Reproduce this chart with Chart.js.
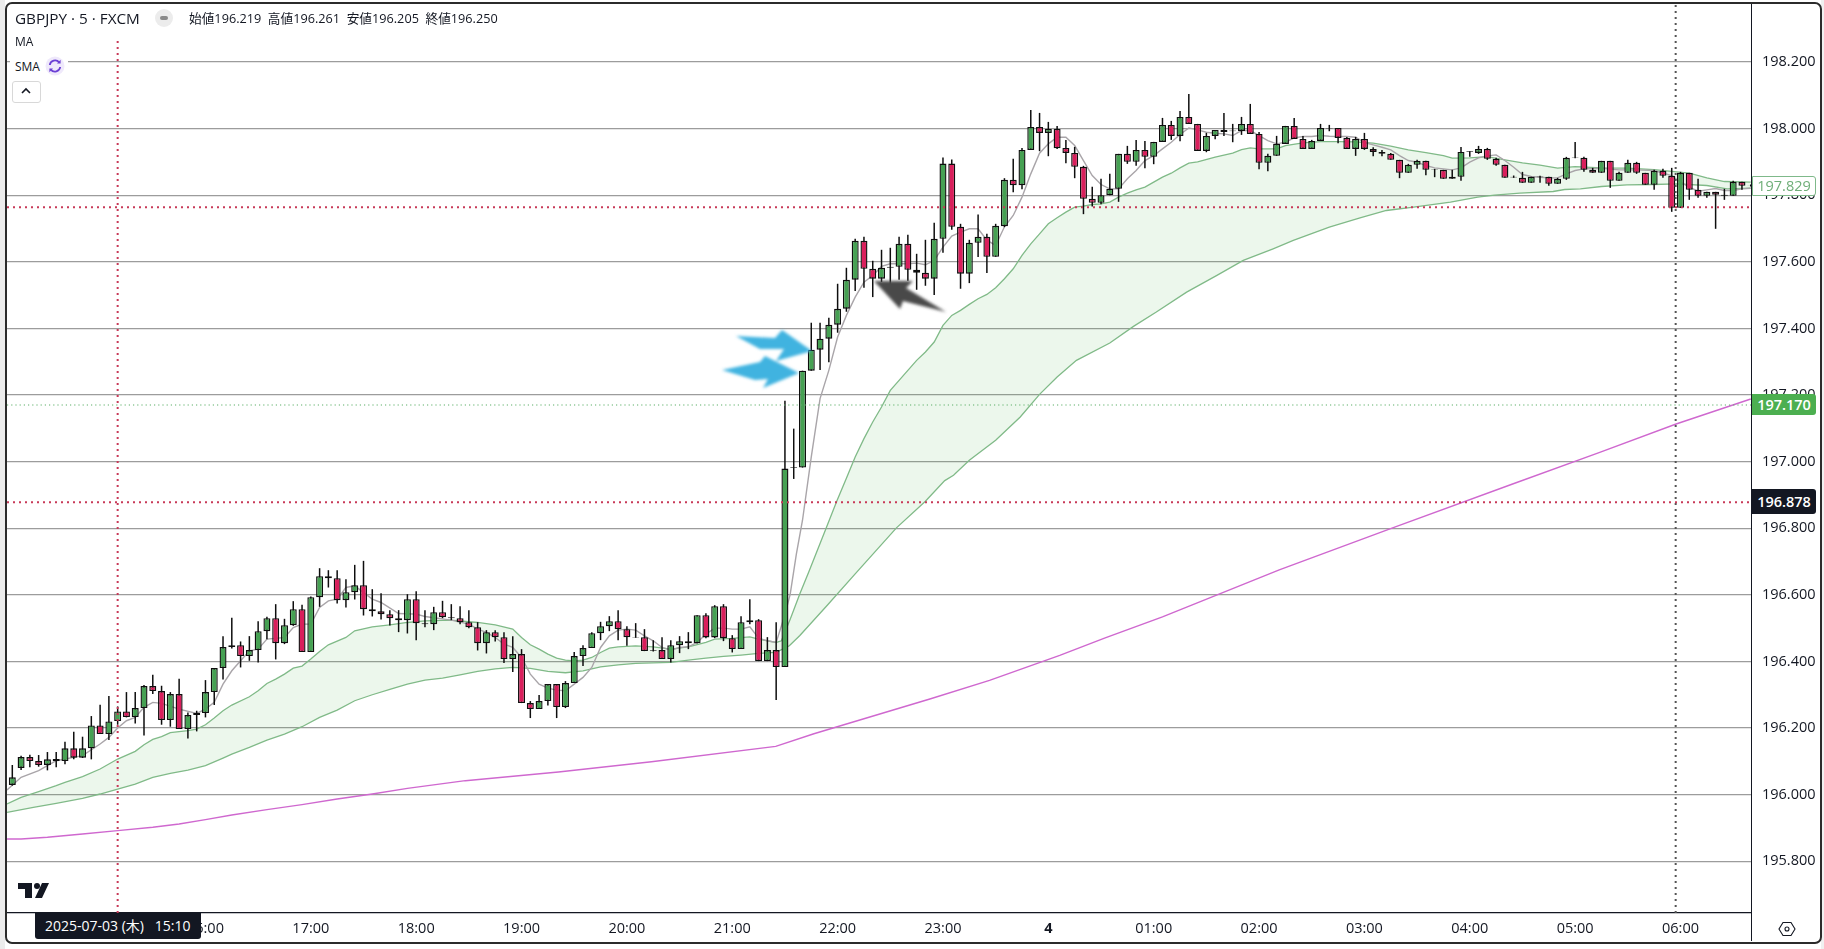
<!DOCTYPE html>
<html lang="ja">
<head>
<meta charset="utf-8">
<title>GBPJPY 5 FXCM</title>
<script src="https://cdn.jsdelivr.net/npm/chart.js@4"></script>
<style>
html,body{margin:0;padding:0;background:#fff;width:1824px;height:949px;overflow:hidden}
#wrap{position:relative;width:1824px;height:949px;font-family:"Open Sans","Noto Sans CJK JP",sans-serif;color:#131722}
canvas{position:absolute;left:0;top:0}
.abs{position:absolute;white-space:nowrap}
.tag{position:absolute;left:1752px;width:64px;text-align:center;font-size:14.5px;box-sizing:border-box;border-radius:0 3px 3px 0}
</style>
</head>
<body>
<div id="wrap">
<canvas id="c" width="1824" height="949"></canvas>
<div class="abs" style="left:0;top:0;width:5px;height:949px;background:#ececec"></div>
<div class="abs" style="left:1821px;top:0;width:3px;height:949px;background:#f0f0f0"></div>
<div class="abs" style="left:5px;top:2px;width:1813px;height:938px;border:2.5px solid #2b2b2b;border-radius:7px"></div>
<div class="abs" style="left:1751px;top:4px;width:1px;height:937px;background:#131722"></div>
<div class="abs" style="left:15px;top:8px;font-size:15.3px;line-height:21px">GBPJPY · 5 · FXCM</div>
<div class="abs" style="left:155px;top:9px;width:18px;height:18px;border-radius:9px;background:#ececec"></div>
<div class="abs" style="left:160px;top:16px;width:8px;height:4px;border-radius:2px;background:#8a8a8a"></div>
<div class="abs" style="left:189px;top:8px;font-size:12.7px;line-height:20px">始値196.219&nbsp; 高値196.261&nbsp; 安値196.205&nbsp; 終値196.250</div>
<div class="abs" style="left:15px;top:33px;font-size:12px;line-height:18px">MA</div>
<div class="abs" style="left:10px;top:55px;width:58px;height:24px;background:#fff"></div>
<div class="abs" style="left:15px;top:58px;font-size:12px;line-height:18px">SMA</div>
<svg class="abs" style="left:45px;top:56px" width="20" height="20" viewBox="0 0 20 20"><circle cx="10" cy="10" r="9.5" fill="#efe9fb"/><path d="M4.8 9a5.3 5.3 0 0 1 9.4-2.6M15.2 11a5.3 5.3 0 0 1-9.4 2.6" fill="none" stroke="#6b3fd4" stroke-width="1.8"/><path d="M15.6 3.8v3.6h-3.6zM4.4 16.2v-3.6h3.6z" fill="#6b3fd4"/></svg>
<div class="abs" style="left:12px;top:81px;width:27px;height:20px;border:1px solid #d8d8d8;border-radius:3px;background:#fff"></div>
<svg class="abs" style="left:20px;top:86px" width="12" height="10" viewBox="0 0 12 10"><path d="M2 7l4-4 4 4" fill="none" stroke="#131722" stroke-width="1.6"/></svg>
<svg class="abs" style="left:18px;top:883px" width="31" height="16" viewBox="0 0 31 16"><path d="M0 0h14v15H7V6H0z" fill="#131722"/><circle cx="19" cy="3" r="3" fill="#131722"/><path d="M24 0h7l-7 15h-7z" fill="#131722"/></svg>
<svg class="abs" style="left:0;top:0;pointer-events:none" width="1824" height="949">
<defs><filter id="soft" x="-20%" y="-40%" width="140%" height="180%"><feGaussianBlur stdDeviation="1.4"/></filter></defs>
<g filter="url(#soft)">
<polygon fill="#3fb3e0" points="736,336 775,338 782,330 812,351 776,361 784,349 760,349"/>
<polygon fill="#3fb3e0" points="722,370 760,362 765,356 799,373 763,388 768,379 755,380"/>
<polygon fill="#4a4a4a" points="874,281 913,281 906,288 946,312 903,301 900,309"/>
</g>
</svg>
<div class="tag" style="top:176px;height:20px;line-height:18px;background:#fff;border:1px solid #7fb98a;color:#6fae78">197.829</div>
<div class="tag" style="top:394px;height:21px;line-height:21px;background:#4caf50;color:#fff;font-weight:600">197.170</div>
<div class="tag" style="top:489px;height:25px;line-height:25px;background:#131722;color:#fff;font-weight:600">196.878</div>
<div class="abs" style="left:35px;top:913px;width:166px;height:26px;line-height:26px;background:#131722;color:#fff;font-size:14px;border-radius:0 0 3px 3px;padding-left:10px;box-sizing:border-box">2025-07-03 (木)&nbsp;&nbsp;&nbsp;15:10</div>
<svg class="abs" style="left:1778px;top:921px" width="18" height="16" viewBox="0 0 18 16"><path d="M5 1.5h8L17 8l-4 6.5H5L1 8z" fill="none" stroke="#131722" stroke-width="1.1"/><circle cx="9" cy="8" r="2" fill="none" stroke="#131722" stroke-width="1.1"/></svg>
</div>
<script>
const yTicks=[195.8,196.0,196.2,196.4,196.6,196.8,197.0,197.2,197.4,197.6,197.8,198.0,198.2];
const xTickIdx=[10,22,34,46,58,70,82,94,106,118,130,142,154,166,178,190];
const xTickText=['15:00','16:00','17:00','18:00','19:00','20:00','21:00','22:00','23:00','4','01:00','02:00','03:00','04:00','05:00','06:00'];

const opens=[196.029,196.080,196.113,196.101,196.089,196.107,196.101,196.139,196.111,196.139,196.208,196.182,196.221,196.250,196.233,196.260,196.326,196.311,196.224,196.302,
196.197,196.239,196.245,196.308,196.380,196.443,196.449,196.416,196.434,196.491,196.530,196.455,196.509,196.557,196.428,196.593,196.656,196.650,196.584,196.608,
196.629,196.557,196.551,196.542,196.530,196.524,196.587,196.515,196.512,196.548,196.533,196.530,196.518,196.503,196.455,196.488,196.473,196.407,196.422,196.275,
196.257,196.281,196.332,196.263,196.335,196.416,196.440,196.485,196.506,196.521,196.497,196.473,196.473,196.434,196.434,196.407,196.449,196.461,196.455,196.539,
196.472,196.566,196.470,196.437,196.518,196.524,196.401,196.434,196.383,196.981,196.982,197.273,197.336,197.369,197.411,197.459,197.546,197.663,197.579,197.549,
197.582,197.585,197.654,197.576,197.567,197.549,197.669,197.895,197.705,197.564,197.657,197.675,197.615,197.707,197.846,197.830,197.936,198.005,197.987,197.999,
197.942,197.927,197.885,197.789,197.777,197.800,197.819,197.924,197.900,197.936,197.915,197.960,198.011,197.978,198.035,198.014,197.933,197.978,197.996,197.992,
197.993,198.014,197.984,197.897,197.918,197.954,198.008,197.969,197.939,197.963,198.000,198.002,197.972,197.939,197.969,197.939,197.930,197.924,197.906,197.867,
197.891,197.903,197.878,197.876,197.849,197.855,197.930,197.927,197.939,197.909,197.891,197.855,197.852,197.837,197.856,197.855,197.834,197.849,197.912,197.912,
197.876,197.867,197.903,197.843,197.867,197.897,197.867,197.831,197.873,197.858,197.762,197.867,197.816,197.798,197.810,197.801,197.798,197.840,197.828];
const highs=[196.089,196.117,196.120,196.119,196.128,196.128,196.159,196.189,196.174,196.236,196.270,196.296,196.265,196.308,196.308,196.329,196.360,196.327,196.308,196.348,
196.247,196.252,196.344,196.380,196.476,196.531,196.460,196.476,196.521,196.534,196.572,196.528,196.581,196.570,196.595,196.680,196.674,196.674,196.647,196.690,
196.702,196.617,196.605,196.554,196.554,196.602,196.611,196.554,196.564,196.582,196.572,196.566,196.554,196.518,196.494,196.494,196.488,196.476,196.437,196.281,
196.299,196.332,196.332,196.341,196.428,196.449,196.488,196.519,196.536,196.554,196.506,196.515,196.497,196.464,196.473,196.464,196.476,196.488,196.539,196.545,
196.569,196.572,196.479,196.536,196.587,196.527,196.473,196.518,197.183,197.099,197.273,197.417,197.417,197.432,197.534,197.582,197.669,197.675,197.603,197.636,
197.642,197.675,197.681,197.624,197.666,197.717,197.913,197.907,197.714,197.666,197.742,197.684,197.714,197.851,197.909,197.942,198.056,198.047,198.020,198.008,
197.966,197.945,197.888,197.825,197.849,197.864,197.924,197.948,197.966,197.963,197.960,198.032,198.023,198.053,198.104,198.014,197.987,197.996,198.047,198.014,
198.035,198.074,197.990,197.924,197.978,198.008,198.032,197.978,197.966,198.014,198.011,198.002,197.975,197.975,197.987,197.944,197.936,197.927,197.906,197.894,
197.906,197.903,197.879,197.876,197.876,197.945,197.932,197.948,197.942,197.912,197.891,197.859,197.870,197.855,197.858,197.855,197.852,197.915,197.960,197.915,
197.882,197.903,197.903,197.870,197.906,197.900,197.867,197.876,197.879,197.882,197.870,197.867,197.849,197.810,197.810,197.819,197.843,197.840,197.832];
const lows=[196.027,196.074,196.082,196.084,196.073,196.082,196.091,196.106,196.110,196.106,196.182,196.164,196.210,196.232,196.214,196.178,196.302,196.210,196.204,196.197,
196.169,196.190,196.232,196.269,196.346,196.439,196.382,196.402,196.397,196.467,196.406,196.452,196.507,196.428,196.428,196.564,196.622,196.574,196.562,196.586,
196.538,196.535,196.526,196.508,196.488,196.484,196.464,196.503,196.494,196.530,196.524,196.512,196.500,196.433,196.424,196.460,196.395,196.368,196.275,196.230,
196.257,196.268,196.230,196.260,196.335,196.386,196.440,196.464,196.491,196.464,196.447,196.471,196.431,196.430,196.407,196.397,196.425,196.437,196.454,196.470,
196.470,196.461,196.427,196.437,196.512,196.401,196.401,196.284,196.383,196.948,196.982,197.273,197.275,197.298,197.387,197.450,197.512,197.522,197.494,197.539,
197.531,197.546,197.543,197.516,197.528,197.500,197.627,197.696,197.519,197.536,197.614,197.566,197.615,197.704,197.809,197.818,197.936,197.932,197.917,197.939,
197.896,197.851,197.743,197.766,197.773,197.800,197.780,197.894,197.888,197.881,197.893,197.960,197.966,197.962,198.014,197.933,197.929,197.968,197.978,197.959,
197.981,197.984,197.878,197.872,197.918,197.954,197.969,197.939,197.939,197.963,197.992,197.956,197.939,197.918,197.936,197.917,197.917,197.906,197.851,197.867,
197.879,197.860,197.854,197.849,197.849,197.843,197.915,197.924,197.906,197.888,197.852,197.852,197.837,197.837,197.837,197.828,197.834,197.846,197.911,197.870,
197.867,197.867,197.822,197.843,197.867,197.864,197.831,197.816,197.852,197.750,197.762,197.786,197.792,197.792,197.699,197.786,197.798,197.816,197.826];
const closes=[196.052,196.113,196.101,196.089,196.106,196.101,196.139,196.111,196.139,196.208,196.182,196.220,196.250,196.233,196.260,196.326,196.311,196.224,196.302,196.197,
196.239,196.245,196.308,196.380,196.443,196.449,196.416,196.434,196.491,196.530,196.455,196.509,196.557,196.428,196.593,196.656,196.650,196.584,196.608,196.629,
196.557,196.551,196.542,196.530,196.524,196.587,196.515,196.512,196.548,196.533,196.530,196.518,196.503,196.455,196.488,196.473,196.407,196.422,196.275,196.257,
196.281,196.332,196.263,196.335,196.416,196.440,196.485,196.506,196.521,196.497,196.473,196.471,196.431,196.432,196.407,196.449,196.461,196.455,196.539,196.472,
196.566,196.470,196.437,196.518,196.524,196.401,196.434,196.383,196.979,196.983,197.273,197.336,197.369,197.411,197.459,197.546,197.663,197.579,197.549,197.582,
197.585,197.654,197.576,197.567,197.549,197.669,197.895,197.705,197.564,197.657,197.675,197.615,197.708,197.846,197.830,197.936,198.005,197.987,197.999,197.941,
197.927,197.885,197.789,197.777,197.800,197.819,197.924,197.900,197.936,197.915,197.960,198.011,197.978,198.035,198.014,197.933,197.978,197.996,197.990,197.994,
198.014,197.984,197.897,197.918,197.954,198.008,197.969,197.939,197.963,198.002,198.002,197.972,197.939,197.969,197.939,197.930,197.924,197.906,197.867,197.891,
197.903,197.876,197.876,197.849,197.855,197.930,197.932,197.939,197.909,197.891,197.852,197.853,197.837,197.855,197.854,197.834,197.849,197.912,197.914,197.876,
197.867,197.903,197.843,197.867,197.897,197.867,197.831,197.873,197.858,197.762,197.867,197.816,197.798,197.810,197.801,197.798,197.840,197.828,197.829];

const fastIdx=[-0.6,1,3,5,8,10,11,12,13,14,15,16,17,19,21,22,23,24,25,26,27,28,29,31,32,33,34,35,36,37,38,39,41,42,44,46,47,50,52,53,54,55,56,57,58,59,60,61,62,63,64,65,66,67,68,69,70,71,72,73,74,75,76,77,78,79,80,81,82,83,84,85,86,87,88,88.6,89.3,90,91,92,93,94,95,96,97,98,99,100,101,102,103,104,105,106,107,108,109,110,111,112,113,114,115,116,117,118,119,120,121,122,123,124,125,126,127,128,129,130,131,132,133,134,135,136,137,138,139,140,141,142,143,144,145,146,147,148,149,150,151,152,153,154,155,156,157,158,159,160,161,162,163,164,165,166,167,168,169,170,171,172,173,174,175,176,177,178,179,181,183,185,187,189,190,191,192,193,194,195,196,197,198];
const fastVal=[196.014,196.052,196.072,196.102,196.117,196.152,196.172,196.200,196.222,196.232,196.262,196.277,196.274,196.257,196.244,196.257,196.277,196.332,196.372,196.402,196.432,196.437,196.467,196.472,196.502,196.512,196.512,196.562,196.582,196.587,196.622,196.627,196.587,196.577,196.544,196.542,196.535,196.524,196.512,196.497,196.487,196.472,196.452,196.442,196.412,196.362,196.332,196.320,196.314,196.312,196.332,196.352,196.382,196.442,196.477,196.494,196.497,196.494,196.477,196.462,196.442,196.434,196.442,196.444,196.457,196.482,196.500,196.500,196.497,196.497,196.504,196.470,196.462,196.457,196.540,196.602,196.722,196.824,197.014,197.189,197.274,197.374,197.439,197.494,197.539,197.559,197.586,197.594,197.594,197.594,197.596,197.591,197.604,197.644,197.677,197.689,197.699,197.699,197.665,197.649,197.705,197.739,197.794,197.864,197.926,197.954,197.974,197.974,197.949,197.904,197.859,197.832,197.819,197.819,197.849,197.874,197.904,197.919,197.939,197.959,197.982,198.002,197.996,197.989,197.986,197.984,197.979,197.994,197.994,197.979,197.964,197.954,197.959,197.972,197.976,197.976,197.979,197.977,197.976,197.976,197.974,197.958,197.951,197.944,197.936,197.919,197.904,197.899,197.889,197.882,197.879,197.876,197.882,197.899,197.912,197.918,197.921,197.904,197.884,197.862,197.856,197.854,197.852,197.852,197.864,197.874,197.879,197.881,197.876,197.876,197.874,197.859,197.839,197.824,197.812,197.816,197.820,197.814,197.814,197.819,197.821];

const midIdx=[-0.6,1,3,5,6,8,10,12,14,15,16,17,18,19,20,21,22,23,24,25,27,28,29,30,31,32,33,34,35,36,38,39,41,43,45,47,50,53,55,57,58,59,60,61,62,63,64,65,66,67,68,69,71,73,75,77,79,80,82,84,85,87,87.6,88.6,89.7,90.7,92.7,93.9,95,96,97,98,99,100,101,102,103,104,105,106,107,108,109,110,111,112,113,114,115,116,117,118,119,120,121,122,123,124,125,126,127,128,129,130,131,132,133,134,135,137,139,140,141,142,144,145,147,149,151,153,155,157,159,161,163,164,166,168,170,172,174,176,178,181,184,187,191,193,195,198];
const midVal=[195.972,195.992,196.009,196.027,196.037,196.054,196.077,196.107,196.130,196.150,196.166,196.174,196.186,196.189,196.192,196.197,196.210,196.230,196.252,196.269,196.294,196.312,196.334,196.347,196.362,196.380,196.386,196.407,196.430,196.450,196.472,196.492,196.504,196.510,196.517,196.522,196.524,196.517,196.510,196.497,196.472,196.450,196.437,196.422,196.410,196.404,196.402,196.404,196.412,196.427,196.440,196.444,196.447,196.444,196.437,196.444,196.457,196.467,196.469,196.474,196.467,196.457,196.462,196.527,196.603,196.668,196.801,196.881,196.950,197.014,197.069,197.119,197.164,197.214,197.244,197.274,197.304,197.329,197.359,197.409,197.439,197.454,197.472,197.489,197.502,197.522,197.549,197.579,197.619,197.654,197.684,197.714,197.732,197.749,197.764,197.767,197.772,197.774,197.779,197.794,197.806,197.816,197.824,197.839,197.854,197.866,197.882,197.896,197.900,197.914,197.926,197.937,197.942,197.939,197.939,197.949,197.957,197.961,197.961,197.960,197.956,197.947,197.936,197.928,197.919,197.911,197.912,197.916,197.906,197.897,197.890,197.881,197.886,197.882,197.881,197.877,197.866,197.852,197.841,197.839];

const slowIdx=[-0.6,2.4,5,8,10,12,14,16,18,20,22,24,25,27,29,31,33,35,37,39,41,43,45,47,49,51,53,55,57,59,61,63,65,67,69,71,73,75,77,79,81,83,85,87,88.5,89.7,92.9,96,100.7,104,106.2,107.2,109,112,114.8,117,119,121.2,125,127.7,130.3,133.75,137.2,140.2,143.6,145.9,150,153.5,156.5,159.6,163.8,166.9,168.8,171.7,175.5,176.8,178.6,181,183.9,186.9,189.6,193,195.3,198];
const slowVal=[195.947,195.962,195.974,195.989,196.002,196.017,196.032,196.052,196.064,196.074,196.087,196.110,196.122,196.142,196.164,196.182,196.204,196.232,196.254,196.282,196.300,196.316,196.332,196.344,196.350,196.360,196.370,196.378,196.382,196.379,196.370,196.366,196.372,196.384,196.390,196.394,196.396,196.397,196.404,196.410,196.415,196.419,196.424,196.427,196.447,196.478,196.571,196.663,196.801,196.881,196.943,196.959,197.004,197.064,197.134,197.202,197.254,197.304,197.356,197.406,197.449,197.509,197.559,197.604,197.639,197.664,197.704,197.732,197.754,197.764,197.779,197.794,197.800,197.806,197.811,197.817,197.819,197.826,197.831,197.832,197.834,197.829,197.819,197.821];

const longIdx=[-0.6,1,4,8,12,16,19,22,25,29,33,37,41,45,51.6,62.2,72.8,86.95,91.3,104.6,111.3,119.3,124.4,131,144.3,157.6,170.8,180.8,189.5,198];
const longVal=[195.867,195.867,195.872,195.882,195.892,195.902,195.912,195.925,195.939,195.955,195.970,195.987,196.002,196.019,196.042,196.068,196.099,196.145,196.183,196.288,196.343,196.418,196.470,196.534,196.675,196.805,196.932,197.028,197.113,197.188];

const crossBarIdx=12, rightLineIdx=189.45, crossPrice=196.878, otherPrice=197.764, bidPrice=197.170;

const UP='#46a153', DOWN='#d91f5c', INK='#0e0e0e', GRID='#9c9c9c';
const xMin=-0.604, xMax=198.03, yMin=195.6447, yMax=198.371;
const pts=(xs,ys)=>xs.map((x,i)=>({x,y:ys[i]}));
const barIdx=opens.map((_,i)=>i);
const hline=(label,y,color,dash,width)=>({type:'line',label,data:[{x:xMin,y},{x:xMax,y}],borderColor:color,borderDash:dash,borderWidth:width,pointRadius:0,order:1});
const vline=(label,x,color,dash,width,top)=>({type:'line',label,data:[{x,y:yMin},{x,y:top}],borderColor:color,borderDash:dash,borderWidth:width,pointRadius:0,order:1});

new Chart(document.getElementById('c'),{
  data:{datasets:[
    {type:'line',label:'MA mid',data:pts(midIdx,midVal),borderColor:'#80ba88',borderWidth:1.3,pointRadius:0,fill:'+1',backgroundColor:'rgba(76,175,80,0.105)',order:9},
    {type:'line',label:'MA slow',data:pts(slowIdx,slowVal),borderColor:'#80ba88',borderWidth:1.3,pointRadius:0,fill:false,order:8},
    {type:'line',label:'MA long',data:pts(longIdx,longVal),borderColor:'#cf68cf',borderWidth:1.4,pointRadius:0,fill:false,order:7},
    {type:'line',label:'MA fast',data:pts(fastIdx,fastVal),borderColor:'#a9a5a9',borderWidth:1.4,pointRadius:0,fill:false,order:6},
    {type:'bar',label:'wick',data:barIdx.map(i=>({x:i,y:[lows[i],highs[i]]})),backgroundColor:INK,borderWidth:0,barThickness:1.5,grouped:false,inflateAmount:0,order:5},
    {type:'bar',label:'body',data:barIdx.map(i=>({x:i,y:[opens[i],closes[i]]})),backgroundColor:barIdx.map(i=>closes[i]>=opens[i]?UP:DOWN),borderColor:INK,borderWidth:1.4,borderSkipped:false,barThickness:7,grouped:false,inflateAmount:0,order:4},
    hline('bid',bidPrice,'#5cae68',[1.2,3],1.2),
    hline('cross price',crossPrice,'#c83a58',[2,4],2),
    hline('second price',otherPrice,'#c83a58',[2,4],2),
    vline('cross time',crossBarIdx,'#c83a58',[2,4],2,198.275),
    vline('right time',rightLineIdx,'#555555',[2,4],2,yMax)
  ]},
  options:{
    responsive:false,animation:false,devicePixelRatio:1,
    layout:{autoPadding:false,padding:{left:7,top:5,right:0,bottom:0}},
    plugins:{legend:{display:false},tooltip:{enabled:false}},
    elements:{line:{tension:0}},
    scales:{
      x:{type:'linear',position:'bottom',min:xMin,max:xMax,offset:false,
        afterFit:a=>{a.height=36;a.paddingLeft=0;a.paddingRight=0},
        afterBuildTicks:a=>{a.ticks=xTickIdx.map(value=>({value}))},
        grid:{display:false,drawTicks:false},
        border:{display:true,color:'#131722',width:1.2},
        ticks:{autoSkip:false,maxRotation:0,padding:7,color:'#131722',
          font:c=>({family:'"Open Sans",sans-serif',size:14.5,weight:c.tick&&c.tick.value===118?'700':'400'}),
          callback:v=>xTickText[xTickIdx.indexOf(v)]}
      },
      y:{type:'linear',position:'right',min:yMin,max:yMax,
        afterFit:a=>{a.width=73;a.paddingTop=0;a.paddingBottom=0},
        afterBuildTicks:a=>{a.ticks=yTicks.map(value=>({value}))},
        grid:{color:GRID,lineWidth:1.2,drawTicks:false},
        border:{display:false},
        ticks:{padding:11,color:'#131722',font:{family:'"Open Sans",sans-serif',size:14.5},callback:v=>v.toFixed(3)}
      }
    }
  }
});
</script>
</body>
</html>
